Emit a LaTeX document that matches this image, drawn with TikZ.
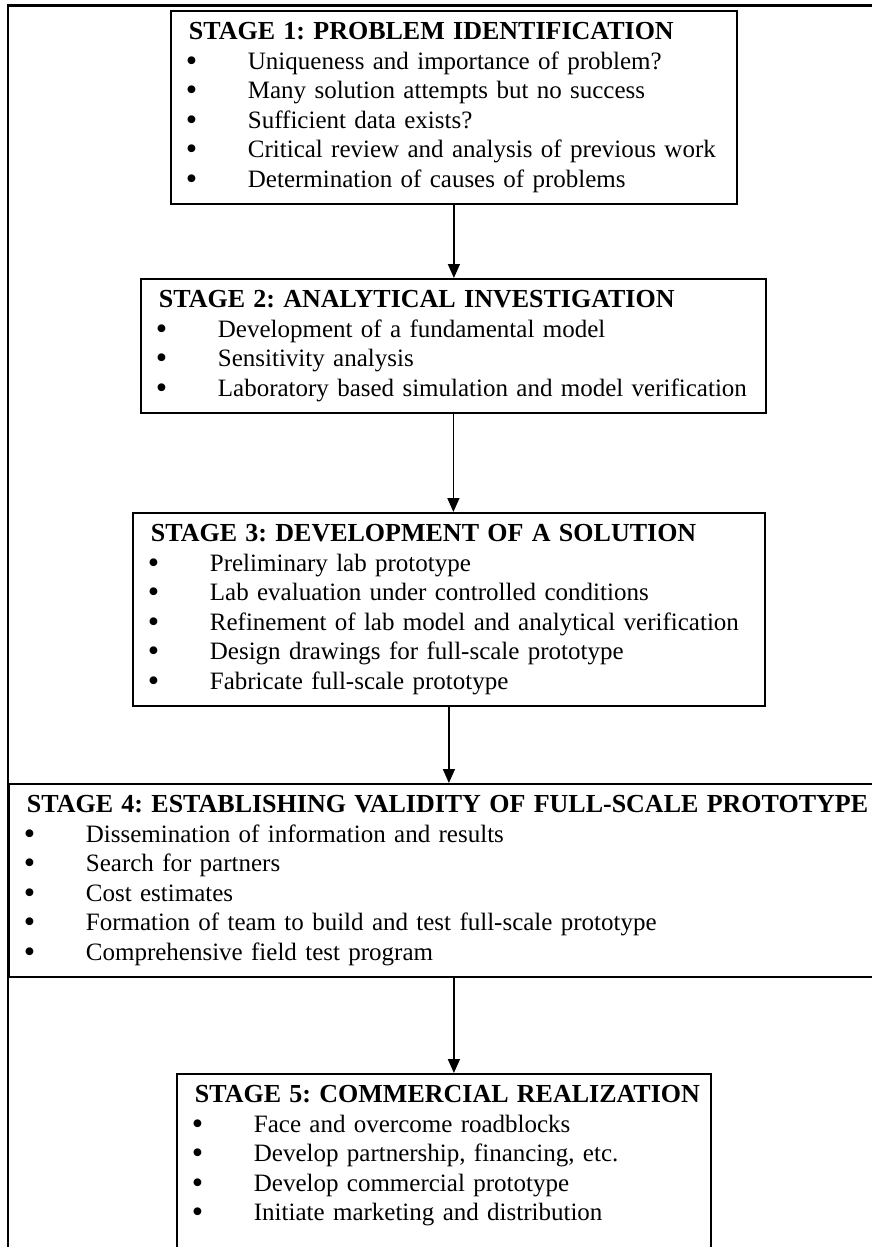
\documentclass[tikz,border=0pt]{standalone}
\usepackage{fontspec}
\setmainfont{Liberation Serif}
\usetikzlibrary{arrows.meta,positioning,calc}

\frenchspacing
\newcommand{\stitle}[1]{\strut\mbox{\fontsize{26}{29.5}\selectfont\textbf{#1}}}
\newcommand{\itm}[1]{\strut\mbox{\makebox[59pt][l]{\kern-3pt\raisebox{-2pt}{\scalebox{1.3}{\textbullet}}}#1}}

\begin{document}
\begin{tikzpicture}[
  x=1pt, y=-1pt,
  stage/.style={draw, line width=1.8pt, anchor=north west, inner xsep=18pt, inner ysep=8pt,
    align=left, text width=#1, font=\fontsize{25}{29.5}\selectfont},
  arrow/.style={-{Triangle[length=14pt,width=12pt]}, line width=1.5pt}
]
\useasboundingbox (0,0) rectangle (872,1247);
\clip (0,0) rectangle (872,1247);

% outer frame
\draw[line width=2pt] (8,1260) -- (8,6);
\draw[line width=3pt] (7,6) -- (880,6);

\node[stage=530pt] (ident) at (170,10) {\stitle{STAGE 1: PROBLEM IDENTIFICATION}\\
  \itm{Uniqueness and importance of problem?}\\
  \itm{Many solution attempts but no success}\\
  \itm{Sufficient data exists?}\\
  \itm{Critical review and analysis of previous work}\\
  \itm{Determination of causes of problems}};

\node[stage=589pt] (analysis) at (140,278) {\stitle{STAGE 2: ANALYTICAL INVESTIGATION}\\
  \itm{Development of a fundamental model}\\
  \itm{Sensitivity analysis}\\
  \itm{Laboratory based simulation and model verification}};

\node[stage=596pt] (solution) at (132,512) {\stitle{STAGE 3: DEVELOPMENT OF A SOLUTION}\\
  \itm{Preliminary lab prototype}\\
  \itm{Lab evaluation under controlled conditions}\\
  \itm{Refinement of lab model and analytical verification}\\
  \itm{Design drawings for full-scale prototype}\\
  \itm{Fabricate full-scale prototype}};

\node[stage=864pt] (validity) at (8,783) {\stitle{STAGE 4: ESTABLISHING VALIDITY OF FULL-SCALE PROTOTYPE}\\
  \itm{Dissemination of information and results}\\
  \itm{Search for partners}\\
  \itm{Cost estimates}\\
  \itm{Formation of team to build and test full-scale prototype}\\
  \itm{Comprehensive field test program}};

\node[stage=498pt] (commercial) at (176,1073) {\stitle{STAGE 5: COMMERCIAL REALIZATION}\\
  \itm{Face and overcome roadblocks}\\
  \itm{Develop partnership, financing, etc.}\\
  \itm{Develop commercial prototype}\\
  \itm{Initiate marketing and distribution}\\
  \strut\\ \strut};

\draw[arrow] (ident.south) -- (ident.south |- analysis.north);
\draw[arrow] (analysis.south) -- (analysis.south |- solution.north);
\draw[arrow] (solution.south) -- (solution.south |- validity.north);
\draw[arrow] (validity.south -| ident.south) -- (commercial.north -| ident.south);
\end{tikzpicture}
\end{document}
